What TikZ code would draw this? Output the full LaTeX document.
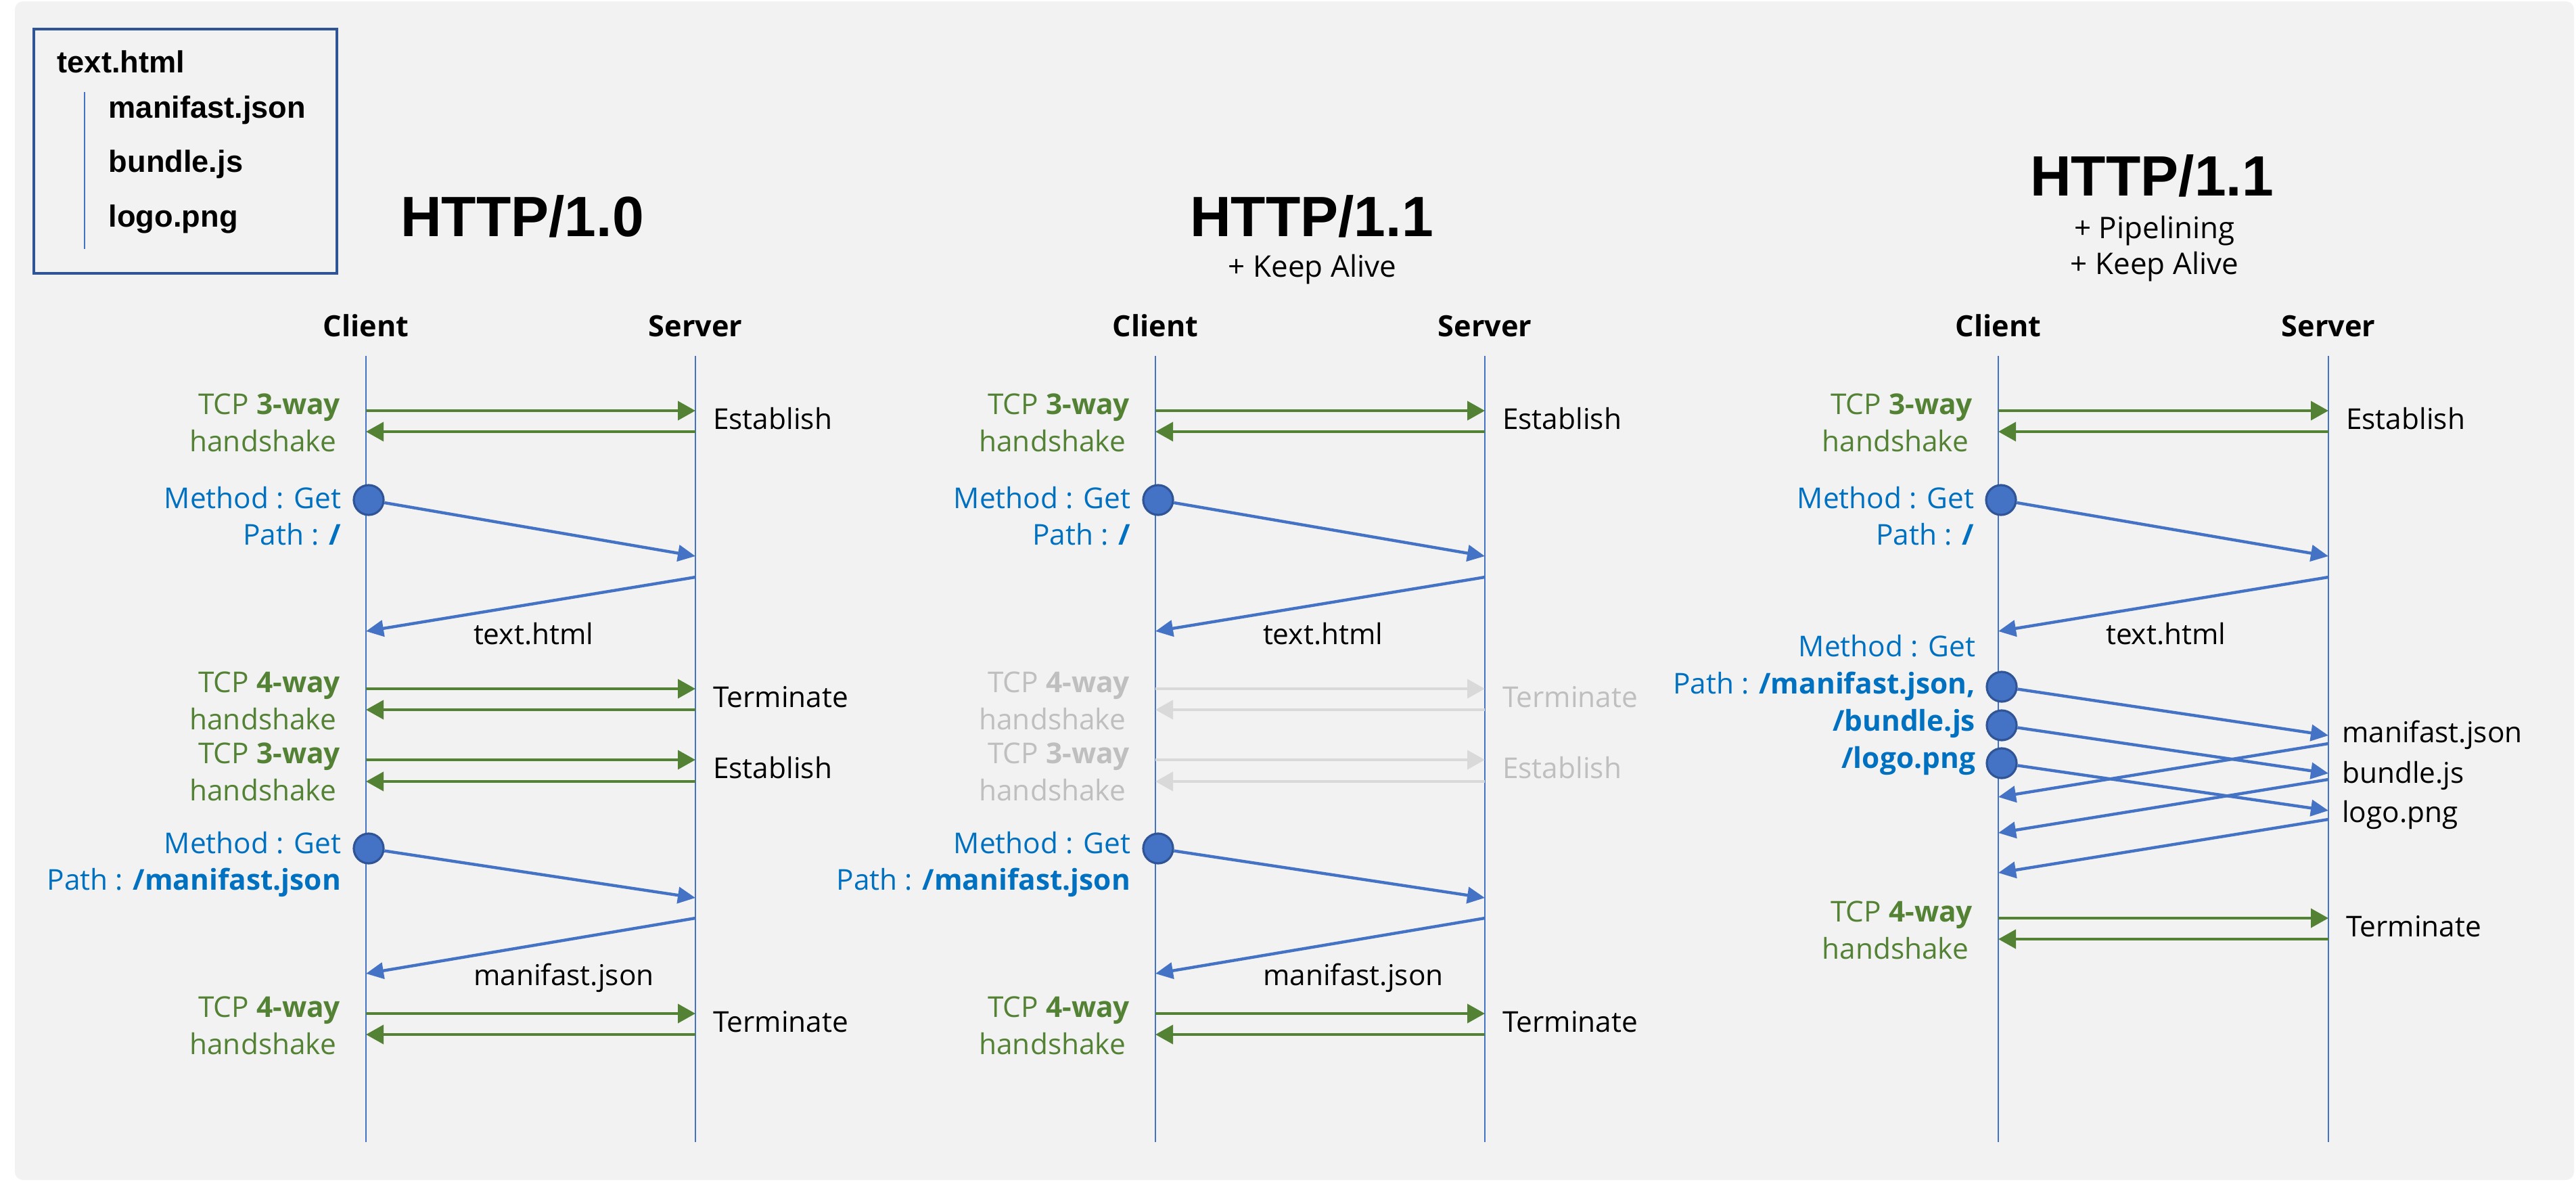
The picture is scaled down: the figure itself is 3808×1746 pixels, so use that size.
\documentclass[tikz,border=0pt]{standalone}
\usepackage{fontspec}
\setmainfont{Open Sans}
\newfontfamily\arl{Liberation Sans}
\usetikzlibrary{arrows.meta}
\definecolor{bgc}{HTML}{F2F2F2}
\definecolor{grn}{HTML}{548235}
\definecolor{blu}{HTML}{4472C4}
\definecolor{dblu}{HTML}{2F5597}
\definecolor{btxt}{HTML}{0070C0}
\definecolor{gra}{HTML}{D9D9D9}
\definecolor{grt}{HTML}{BFBFBF}
% colour sets for handshakes: active (act) and faded (ina)
\colorlet{actA}{grn}\colorlet{actT}{grn}\colorlet{actR}{black}
\colorlet{inaA}{gra}\colorlet{inaT}{grt}\colorlet{inaR}{grt}
\tikzset{
 lbl/.style={inner sep=0pt, outer sep=0pt, font=\fontsize{10.6}{12}\selectfont},
 hdr/.style={inner sep=0pt, font=\fontsize{10.8}{12}\selectfont\bfseries, anchor=base},
 ttl/.style={inner sep=0pt, font=\arl\fontsize{21}{24}\selectfont\bfseries, anchor=base},
 sub/.style={inner sep=0pt, font=\fontsize{11}{13}\selectfont, anchor=base},
 leg/.style={inner sep=0pt, font=\arl\fontsize{11.3}{13}\selectfont\bfseries, anchor=base west},
 life/.style={draw=blu, line width=0.4pt},
 harrow/.style={line width=1pt, -{Triangle[length=6.5pt,width=7pt]}},
 barrow/.style={draw=blu, line width=1.1pt, -{Triangle[length=6.5pt,width=6pt]}},
 dot/.style={circle, fill=blu, draw=dblu, line width=0.8pt, minimum size=11pt, inner sep=0pt},
}
% handshake: name, cx, sx, y1, y2, bold part, right word, colour set
\newcommand\hshake[8]{%
  \coordinate (#1c1) at (#2,#4); \coordinate (#1s1) at (#3,#4);
  \coordinate (#1c2) at (#2,#5); \coordinate (#1s2) at (#3,#5);
  \draw[harrow,draw=#8A,fill=#8A] (#1c1) -- (#1s1);
  \draw[harrow,draw=#8A,fill=#8A] (#1s2) -- (#1c2);
  \node[lbl,text=#8T,anchor=base east] (#1ta) at (#2-38,#4+5) {TCP \textbf{#6}};
  \node[lbl,text=#8T,anchor=base east] (#1tb) at (#2-44,#4+60) {handshake};
  \node[lbl,text=#8R,anchor=base west] (#1r) at (#3+26,#4+27) {#7};
}
% request: name, cx, sx, ycircle, yend, yret1, yret2, response label, label y
\newcommand\req[9]{%
  \node[dot] (#1d) at (#2+4,#4) {};
  \coordinate (#1e) at (#3,#5);
  \coordinate (#1r1) at (#3,#6);
  \coordinate (#1r2) at (#2,#7);
  \draw[barrow] (#1d) -- (#1e);
  \draw[barrow] (#1r1) -- (#1r2);
  \node[lbl,anchor=base west] (#1lab) at (#2+159,#9) {#8};
}
\begin{document}
\begin{tikzpicture}[x=0.25pt,y=-0.25pt]
\useasboundingbox (0,0) rectangle (3808,1746);
\fill[white] (0,0) rectangle (3808,1746);
\fill[bgc, rounded corners=3pt] (22,2) rectangle (3805,1744);

% legend
\draw[draw=dblu, line width=1.1pt] (50,43) rectangle (498,404);
\coordinate (legt) at (125,136); \coordinate (legb) at (125,368);
\draw[life] (legt) -- (legb);
\node[leg] (lg1) at (84,107) {text.html};
\node[leg] (lg2) at (160,174) {manifast.json};
\node[leg] (lg3) at (160,254) {bundle.js};
\node[leg] (lg4) at (160,335) {logo.png};

% ===== left panel: HTTP/1.0
\node[ttl] (Ltitle) at (772,349) {HTTP/1.0};
\node[hdr] (Lclient) at (541,497) {Client};
\node[hdr] (Lserver) at (1028,497) {Server};
\coordinate (Lct) at (541,526); \coordinate (Lcb) at (541,1688);
\coordinate (Lst) at (1028,526); \coordinate (Lsb) at (1028,1688);
\draw[life] (Lct) -- (Lcb);
\draw[life] (Lst) -- (Lsb);
\hshake{La}{541}{1028}{607}{638}{3-way}{Establish}{act}
\req{Lq}{541}{1028}{739}{822}{853}{933}{text.html}{952}
\node[lbl,text=btxt,anchor=base east] (Lqm) at (504,751) {Method : Get};
\node[lbl,text=btxt,anchor=base east] (Lqp) at (504,805) {Path : \textbf{/}};
\hshake{Lb}{541}{1028}{1018}{1049}{4-way}{Terminate}{act}
\hshake{Lc}{541}{1028}{1123}{1155}{3-way}{Establish}{act}
\req{Lr}{541}{1028}{1254}{1327}{1357}{1439}{manifast.json}{1456}
\node[lbl,text=btxt,anchor=base east] (Lrm) at (504,1261) {Method : Get};
\node[lbl,text=btxt,anchor=base east] (Lrp) at (504,1315) {Path : \textbf{/manifast.json}};
\hshake{Ld}{541}{1028}{1498}{1529}{4-way}{Terminate}{act}

% ===== middle panel: HTTP/1.1 + Keep Alive
\node[ttl] (Mtitle) at (1939,349) {HTTP/1.1};
\node[sub] (Msub) at (1940,409) {+ Keep Alive};
\node[hdr] (Mclient) at (1708,497) {Client};
\node[hdr] (Mserver) at (2195,497) {Server};
\coordinate (Mct) at (1708,526); \coordinate (Mcb) at (1708,1688);
\coordinate (Mst) at (2195,526); \coordinate (Msb) at (2195,1688);
\draw[life] (Mct) -- (Mcb);
\draw[life] (Mst) -- (Msb);
\hshake{Ma}{1708}{2195}{607}{638}{3-way}{Establish}{act}
\req{Mq}{1708}{2195}{739}{822}{853}{933}{text.html}{952}
\node[lbl,text=btxt,anchor=base east] (Mqm) at (1671,751) {Method : Get};
\node[lbl,text=btxt,anchor=base east] (Mqp) at (1671,805) {Path : \textbf{/}};
\hshake{Mb}{1708}{2195}{1018}{1049}{4-way}{Terminate}{ina}
\hshake{Mc}{1708}{2195}{1123}{1155}{3-way}{Establish}{ina}
\req{Mr}{1708}{2195}{1254}{1327}{1357}{1439}{manifast.json}{1456}
\node[lbl,text=btxt,anchor=base east] (Mrm) at (1671,1261) {Method : Get};
\node[lbl,text=btxt,anchor=base east] (Mrp) at (1671,1315) {Path : \textbf{/manifast.json}};
\hshake{Md}{1708}{2195}{1498}{1529}{4-way}{Terminate}{act}

% ===== right panel: HTTP/1.1 + Pipelining + Keep Alive
\node[ttl] (Rtitle) at (3181,289) {HTTP/1.1};
\node[sub] (Rsub1) at (3185,352) {+ Pipelining};
\node[sub] (Rsub2) at (3185,405) {+ Keep Alive};
\node[hdr] (Rclient) at (2954,497) {Client};
\node[hdr] (Rserver) at (3442,497) {Server};
\coordinate (Rct) at (2954,526); \coordinate (Rcb) at (2954,1688);
\coordinate (Rst) at (3442,526); \coordinate (Rsb) at (3442,1688);
\draw[life] (Rct) -- (Rcb);
\draw[life] (Rst) -- (Rsb);
\hshake{Ra}{2954}{3442}{607}{638}{3-way}{Establish}{act}
\req{Rq}{2954}{3442}{739}{822}{853}{933}{text.html}{952}
\node[lbl,text=btxt,anchor=base east] (Rqm) at (2918,751) {Method : Get};
\node[lbl,text=btxt,anchor=base east] (Rqp) at (2918,805) {Path : \textbf{/}};
% pipelined requests
\node[dot] (Rp1) at (2959,1015) {};
\node[dot] (Rp2) at (2959,1072) {};
\node[dot] (Rp3) at (2959,1128) {};
\coordinate (Re1) at (3442,1087);
\coordinate (Re2) at (3442,1143);
\coordinate (Re3) at (3442,1198);
\coordinate (Rs1) at (3442,1099); \coordinate (Rc1) at (2954,1178);
\coordinate (Rs2) at (3442,1152); \coordinate (Rc2) at (2954,1231);
\coordinate (Rs3) at (3442,1211); \coordinate (Rc3) at (2954,1290);
\draw[barrow] (Rp1) -- (Re1);
\draw[barrow] (Rp2) -- (Re2);
\draw[barrow] (Rp3) -- (Re3);
\draw[barrow] (Rs1) -- (Rc1);
\draw[barrow] (Rs2) -- (Rc2);
\draw[barrow] (Rs3) -- (Rc3);
\node[lbl,text=btxt,anchor=base east] (Rpm) at (2920,970) {Method : Get};
\node[lbl,text=btxt,anchor=base east] (Rpp1) at (2920,1025) {Path : \textbf{/manifast.json,}};
\node[lbl,text=btxt,anchor=base east] (Rpp2) at (2920,1080) {\textbf{/bundle.js}};
\node[lbl,text=btxt,anchor=base east] (Rpp3) at (2920,1135) {\textbf{/logo.png}};
\node[lbl,anchor=base west] (Rl1) at (3462,1097) {manifast.json};
\node[lbl,anchor=base west] (Rl2) at (3462,1157) {bundle.js};
\node[lbl,anchor=base west] (Rl3) at (3462,1215) {logo.png};
\hshake{Rb}{2954}{3442}{1357}{1388}{4-way}{Terminate}{act}
\end{tikzpicture}
\end{document}
